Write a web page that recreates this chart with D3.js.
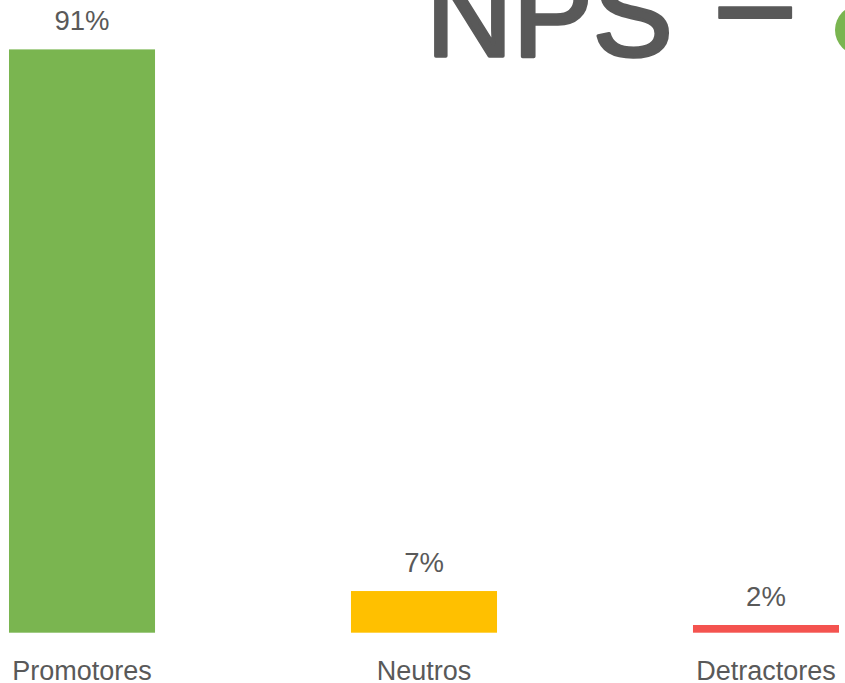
<!DOCTYPE html>
<html>
<head>
<meta charset="utf-8">
<script src="https://cdn.jsdelivr.net/npm/d3@7"></script>
<style>
	html, body { margin: 0; padding: 0; background: #fff; overflow: hidden; }
	svg { display: block; font-family: 'Liberation Sans', Arial, sans-serif; }
</style>
</head>
<body>
<div id="canvas"></div>
<script>
// Data
var categories = ['Promotores', 'Neutros', 'Detractores'],
	values = [91, 6.5, 1.2],
	valueLabels = ['91%', '7%', '2%'],
	barColors = ['#7ab550', '#ffc000', '#f4534f'],
	titleWord = 'NPS',
	titleSign = '=';

var width = 845,
	height = 683,
	textColor = '#595959';

var svg = d3.select('#canvas').append('svg')
	.attr('width', width)
	.attr('height', height);

// Scales
var xScale = d3.scaleBand()
		.domain(categories)
		.range([0, 848])
		.paddingInner(0.573)
		.paddingOuter(0.0263),
	yScale = d3.scaleLinear()
		.domain([0, 100])
		.range([632.7, -8.3]);

// Title (cut off at the top)
svg.append('text')
	.attr('x', 426)
	.attr('y', 56)
	.attr('fill', textColor)
	.attr('stroke', textColor)
	.attr('stroke-width', 3.5)
	.attr('stroke-linejoin', 'round')
	.style('font-size', '120px')
	.text(titleWord);

svg.append('text')
	.attr('x', 712)
	.attr('y', 43)
	.attr('fill', textColor)
	.attr('stroke', textColor)
	.attr('stroke-width', 2)
	.attr('stroke-linejoin', 'round')
	.style('font-size', '148px')
	.text(titleSign);

// Green status dot, partly off canvas
svg.append('circle')
	.attr('cx', 860)
	.attr('cy', 30)
	.attr('r', 25)
	.attr('fill', barColors[0]);

// Bars
var gBars = svg.append('g');
gBars.selectAll('rect')
	.data(values)
	.enter()
	.append('rect')
	.attr('x', function(d, i) { return xScale(categories[i]); })
	.attr('width', xScale.bandwidth())
	.attr('y', function(d) { return yScale(d); })
	.attr('height', function(d) { return yScale(0) - yScale(d); })
	.attr('fill', function(d, i) { return barColors[i]; });

// Value labels
gBars.selectAll('text.value')
	.data(values)
	.enter()
	.append('text')
	.attr('class', 'value')
	.attr('x', function(d, i) { return xScale(categories[i]) + xScale.bandwidth() / 2; })
	.attr('y', function(d) { return yScale(d) - 19.5; })
	.attr('text-anchor', 'middle')
	.attr('fill', textColor)
	.style('font-size', '27.5px')
	.text(function(d, i) { return valueLabels[i]; });

// Category axis (no line, no ticks)
var gXAxis = svg.append('g')
	.attr('transform', 'translate(0,' + yScale(0) + ')')
	.call(d3.axisBottom(xScale).tickSize(0).tickPadding(0));
gXAxis.select('.domain').remove();
gXAxis.selectAll('text')
	.attr('dy', null)
	.attr('y', 47.5)
	.attr('fill', textColor)
	.style('font-size', '27px')
	.style('font-family', "'Liberation Sans', Arial, sans-serif");
</script>
</body>
</html>
